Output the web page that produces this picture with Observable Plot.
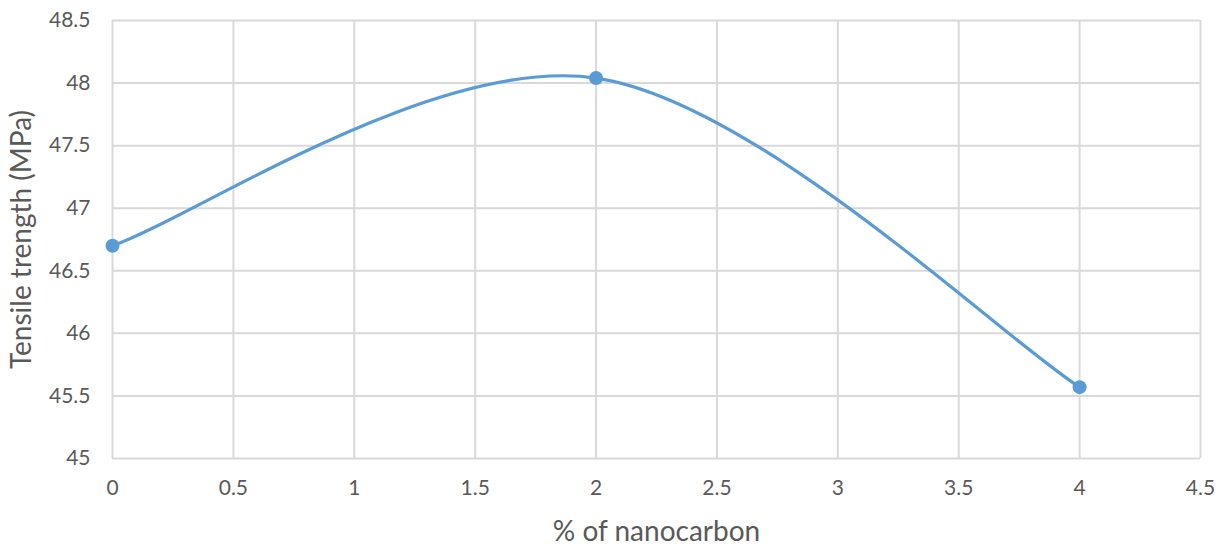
<!DOCTYPE html>
<html><head><meta charset="utf-8">
<script src="https://cdn.jsdelivr.net/npm/d3@7"></script>
<script src="https://cdn.jsdelivr.net/npm/@observablehq/plot@0.6"></script>
<style>body{margin:0;background:#fff;} svg{display:block;}</style>
</head><body><div id="chart"></div>
<script>
const nanocarbon = [0, 2, 4];
const strength = [46.7, 48.04, 45.57];
const xTicks = [0, 0.5, 1, 1.5, 2, 2.5, 3, 3.5, 4, 4.5];
const yTicks = [45, 45.5, 46, 46.5, 47, 47.5, 48, 48.5];
const data = nanocarbon.map((x, i) => ({x, y: strength[i]}));
const grid = "#d9d9d9", txt = "#595959", blue = "#5b9bd5";

// Excel-style smoothed line: Bezier with tangents (P[i+1]-P[i-1])/6, endpoints duplicated
function excelCurve(context) {
  let pts = [];
  return {
    areaStart() {}, areaEnd() {},
    lineStart() { pts = []; },
    point(x, y) { pts.push([+x, +y]); },
    lineEnd() {
      const n = pts.length;
      if (!n) return;
      context.moveTo(pts[0][0], pts[0][1]);
      for (let i = 0; i < n - 1; i++) {
        const p0 = pts[Math.max(i - 1, 0)], p1 = pts[i], p2 = pts[i + 1], p3 = pts[Math.min(i + 2, n - 1)];
        context.bezierCurveTo(
          p1[0] + (p2[0] - p0[0]) / 6, p1[1] + (p2[1] - p0[1]) / 6,
          p2[0] - (p3[0] - p1[0]) / 6, p2[1] - (p3[1] - p1[1]) / 6,
          p2[0], p2[1]);
      }
    }
  };
}

const fmt = d => String(d);
const chart = Plot.plot({
  width: 1226, height: 546,
  marginLeft: 112, marginRight: 26, marginTop: 20, marginBottom: 88,
  style: {fontFamily: "Lato, 'Open Sans', sans-serif", fontSize: "21px", color: txt, background: "#fff"},
  x: {domain: [0, 4.5]},
  y: {domain: [45, 48.5]},
  marks: [
    Plot.gridX(xTicks, {stroke: grid, strokeOpacity: 1, strokeWidth: 2}),
    Plot.gridY(yTicks, {stroke: grid, strokeOpacity: 1, strokeWidth: 2}),
    Plot.axisX({ticks: xTicks, tickFormat: fmt, tickSize: 0, tickPadding: 22, fill: txt, fontSize: 21, label: "% of nanocarbon", labelAnchor: "center", labelArrow: "none", labelOffset: 82}),
    Plot.axisY({ticks: yTicks, tickFormat: fmt, tickSize: 0, tickPadding: 22, fill: txt, fontSize: 21, label: "Tensile trength (MPa)", labelAnchor: "center", labelArrow: "none", labelOffset: 101}),
    Plot.line(data, {x: "x", y: "y", stroke: blue, strokeWidth: 3.2, curve: excelCurve}),
    Plot.dot(data, {x: "x", y: "y", fill: blue, r: 7})
  ]
});
d3.select(chart).selectAll("g[aria-label='x-axis label'] text, g[aria-label='y-axis label'] text").style("font-size", "28px");
document.getElementById("chart").appendChild(chart);
</script></body></html>
